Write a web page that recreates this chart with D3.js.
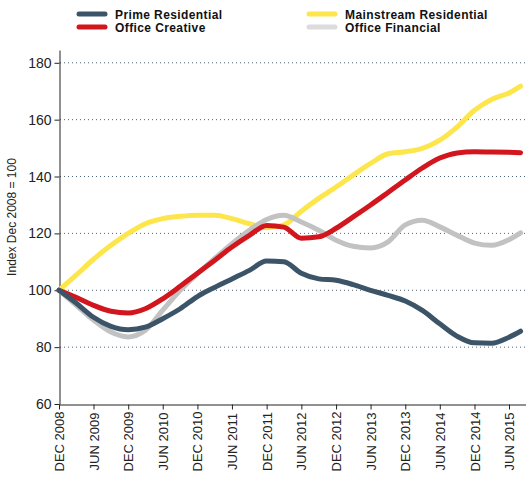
<!DOCTYPE html>
<html lang="en">
<head>
    <meta charset="UTF-8">
    <title>Property Index</title>
    <style>
        body {
            margin: 0;
            background-color: #ffffff;
            font-family: "Liberation Sans", Arial, sans-serif;
        }
        .grid line {
            stroke: #4f6579;
            stroke-width: 1;
            stroke-dasharray: 1, 3;
        }
        .axis path, .axis line {
            stroke: #222;
        }
        .axis text {
            fill: #222;
        }
        .legend text {
            font-weight: bold;
            font-size: 12px;
            letter-spacing: 0.4px;
            fill: #111;
        }
    </style>
</head>
<body>
    <div id="chart"></div>

    <script src="https://d3js.org/d3.v7.min.js"></script>
    <script>
        // quarterly readings, last one Aug 2015
        const dates = [
            "2008-12", "2009-03", "2009-06", "2009-09", "2009-12",
            "2010-03", "2010-06", "2010-09", "2010-12",
            "2011-03", "2011-06", "2011-09", "2011-12",
            "2012-03", "2012-06", "2012-09", "2012-12",
            "2013-03", "2013-06", "2013-09", "2013-12",
            "2014-03", "2014-06", "2014-09", "2014-12",
            "2015-03", "2015-06", "2015-08"
        ];

        const primeResidential = [100, 95.5, 90.5, 87.3, 86.1, 87, 90, 93.5, 97.8, 101, 104, 107, 110.3,
            110, 106, 104, 103.5, 102, 100, 98.2, 96.2, 92.9, 88.2, 83.8, 81.5, 81.4, 83.5, 85.6];
        const mainstreamResidential = [100, 105.3, 110.9, 115.8, 120, 123.4, 125.2, 126, 126.4, 126.4, 125.2, 123.4, 122,
            123, 127.8, 132.3, 136.3, 140.5, 144.6, 148, 148.7, 149.9, 152.8, 157.5, 163.3, 167.1, 169.4, 171.8];
        const officeCreative = [100, 97.5, 94.7, 92.6, 92, 93.5, 97, 101.4, 106, 110.5, 115.2, 119.3, 122.8,
            122.2, 118.3, 118.8, 121.8, 125.8, 130, 134.4, 138.8, 143, 146.5, 148.3, 148.7, 148.6, 148.5, 148.4];
        const officeFinancial = [100, 94.8, 89.5, 85.3, 83.6, 85.9, 93, 100, 105.8, 111.1, 116.4, 121.1, 124.9,
            126.4, 124, 121.1, 117.6, 115.5, 114.9, 117, 123, 124.6, 122.3, 119.3, 116.6, 115.8, 117.8, 120.2];

        const yTicks = [60, 80, 100, 120, 140, 160, 180];
        const xTickLabels = [
            "DEC 2008", "JUN 2009", "DEC 2009", "JUN 2010", "DEC 2010", "JUN 2011", "DEC 2011",
            "JUN 2012", "DEC 2012", "JUN 2013", "DEC 2013", "JUN 2014", "DEC 2014", "JUN 2015"
        ];

        const series = [
            { name: "Mainstream Residential", values: mainstreamResidential, color: "#fde64b", key: "#fde64b" },
            { name: "Office Financial", values: officeFinancial, color: "#c2c2c2", key: "#dcdcdc" },
            { name: "Office Creative", values: officeCreative, color: "#d2161e", key: "#d2161e" },
            { name: "Prime Residential", values: primeResidential, color: "#3c5468", key: "#3c5468" }
        ];

        const width = 526, height = 480;
        const parse = d3.timeParse("%Y-%m");
        const parseTick = d3.timeParse("%b %Y");

        const svg = d3.select("#chart").append("svg")
            .attr("width", width)
            .attr("height", height);

        // Dec 2008 -> 59px, Jun 2015 -> 509px, axis runs on to the edge
        const x = d3.scaleTime()
            .domain([parse("2008-12"), parse("2015-06")])
            .range([59, 509]);
        x.domain([x.domain()[0], x.invert(526)]).range([59, 526]);

        const y = d3.scaleLinear()
            .domain([60, 184.5])
            .range([404, 50]);

        // dotted grid
        svg.append("g")
            .attr("class", "grid")
            .selectAll("line")
            .data(yTicks.filter(d => d > 60))
            .enter().append("line")
            .attr("x1", 60)
            .attr("x2", 526)
            .attr("y1", d => y(d))
            .attr("y2", d => y(d));

        // y axis
        const yAxis = svg.append("g")
            .attr("class", "axis")
            .attr("transform", "translate(59.5,0)")
            .call(d3.axisLeft(y).tickValues(yTicks).tickSize(5).tickPadding(3).tickSizeOuter(0));
        yAxis.selectAll("text").style("font-size", "14px");

        // x axis
        const tickDates = xTickLabels.map(t => parseTick(t.charAt(0) + t.slice(1, 3).toLowerCase() + t.slice(3)));
        const xAxis = svg.append("g")
            .attr("class", "axis")
            .attr("transform", "translate(0,404.5)")
            .call(d3.axisBottom(x).tickValues(tickDates)
                .tickFormat((d, i) => xTickLabels[i])
                .tickSize(5).tickSizeOuter(0));
        xAxis.selectAll("text")
            .style("font-size", "13px")
            .style("text-anchor", "middle")
            .attr("transform", "rotate(-90)")
            .attr("x", -37)
            .attr("y", 0)
            .attr("dy", "0.35em");

        // y label
        svg.append("text")
            .attr("transform", "translate(16,217) rotate(-90)")
            .attr("text-anchor", "middle")
            .style("font-size", "12px")
            .style("fill", "#222")
            .text("Index Dec 2008 = 100");

        // lines
        const line = d3.line()
            .x((d, i) => x(parse(dates[i])))
            .y(d => y(d))
            .curve(d3.curveMonotoneX);

        svg.append("g")
            .selectAll("path")
            .data(series)
            .enter().append("path")
            .attr("d", d => line(d.values))
            .attr("fill", "none")
            .attr("stroke", d => d.color)
            .attr("stroke-width", 5)
            .attr("stroke-linecap", "round")
            .attr("stroke-linejoin", "round");

        // legend
        const legendItems = [
            { s: series[3], x: 77, y: 14 },
            { s: series[2], x: 77, y: 27 },
            { s: series[0], x: 307, y: 14 },
            { s: series[1], x: 307, y: 27 }
        ];
        const legend = svg.append("g").attr("class", "legend");
        const item = legend.selectAll("g")
            .data(legendItems)
            .enter().append("g")
            .attr("transform", d => `translate(${d.x},${d.y})`);
        item.append("line")
            .attr("x1", 2).attr("x2", 28)
            .attr("stroke", d => d.s.key)
            .attr("stroke-width", 5)
            .attr("stroke-linecap", "round");
        item.append("text")
            .attr("x", 38)
            .attr("y", 4.5)
            .text(d => d.s.name);
    </script>
</body>
</html>
